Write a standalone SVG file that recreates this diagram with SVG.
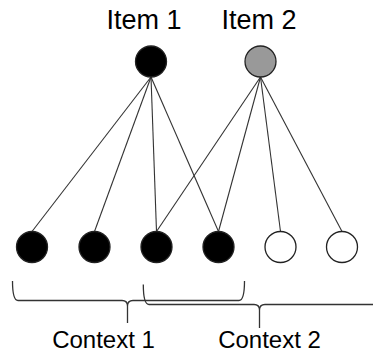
<svg xmlns="http://www.w3.org/2000/svg" width="373" height="356" viewBox="0 0 373 356">
<style>
.lbl{font-family:"Liberation Sans",Arial,sans-serif;fill:#000;text-anchor:middle}
.item{font-size:27px}
.ctx{font-size:24px}
.node{stroke:#222;stroke-width:1.3}
.black{fill:#000}
.gray{fill:#999}
.white{fill:#fff}
.edge{stroke:#333;stroke-width:1.1;fill:none}
.brace{stroke:#333;stroke-width:1.3;fill:none}
</style>
<rect width="373" height="356" fill="#fff"/>
<g id="connectors">
<line class="edge" x1="151" y1="77" x2="32" y2="231.5"/>
<line class="edge" x1="151" y1="77" x2="94.5" y2="231.5"/>
<line class="edge" x1="151" y1="77" x2="156.5" y2="231.5"/>
<line class="edge" x1="151" y1="77" x2="218.5" y2="231.5"/>
<line class="edge" x1="260.5" y1="77" x2="156.5" y2="231.5"/>
<line class="edge" x1="260.5" y1="77" x2="218.5" y2="231.5"/>
<line class="edge" x1="260.5" y1="77" x2="280.5" y2="231.5"/>
<line class="edge" x1="260.5" y1="77" x2="342" y2="231.5"/>
</g>
<g id="item1"><circle class="node black" cx="151" cy="61.5" r="15.5"/><text class="lbl item" x="144" y="29">Item 1</text></g>
<g id="item2"><circle class="node gray" cx="260.5" cy="61.5" r="15.5"/><text class="lbl item" x="259" y="29">Item 2</text></g>
<g id="c1"><circle class="node black" cx="32" cy="247" r="15.5"/></g>
<g id="c2"><circle class="node black" cx="94.5" cy="247" r="15.5"/></g>
<g id="c3"><circle class="node black" cx="156.5" cy="247" r="15.5"/></g>
<g id="c4"><circle class="node black" cx="218.5" cy="247" r="15.5"/></g>
<g id="c5"><circle class="node white" cx="280.5" cy="247" r="15.5"/></g>
<g id="c6"><circle class="node white" cx="342" cy="247" r="15.5"/></g>
<g id="context1">
<path class="brace" d="M12.5,281 Q12.5,300.5 18,300.5 L122,300.5 Q127.5,300.5 127.5,306 L127.5,323 M127.5,306 Q127.5,300.5 133,300.5 L239,300.5 Q244.5,300.5 244.5,281"/>
<text class="lbl ctx" x="103.5" y="348">Context 1</text>
</g>
<g id="context2">
<path class="brace" d="M143.3,284.5 Q143.3,304.5 149,304.5 L254,304.5 Q259.5,304.5 259.5,310 L259.5,328 M259.5,310 Q259.5,304.5 265,304.5 L375,304.5"/>
<text class="lbl ctx" x="269.5" y="348">Context 2</text>
</g>
</svg>
